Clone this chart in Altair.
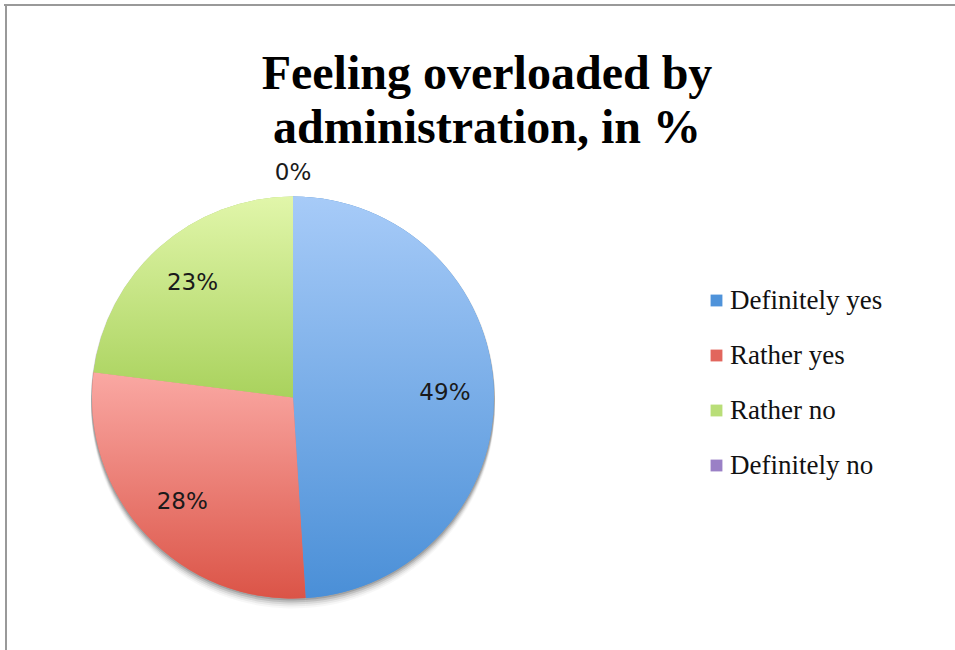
import math
import altair as alt
import pandas as pd

# ---- data ----
categories = ["Definitely yes", "Rather yes", "Rather no", "Definitely no"]
values = [49, 28, 23, 0]
order = [0, 1, 2, 3]

# ---- styles ----
legend_colors = ["#4f93da", "#e2665d", "#b9de78", "#9a80c6"]
gradient_stops = {
    "Definitely yes": ("#a7cbf8", "#4a8fd7"),
    "Rather yes": ("#faa8a3", "#db5447"),
    "Rather no": ("#e1f6aa", "#a9d25d"),
    "Definitely no": ("#c2b0e0", "#8c6fbf"),
}

df = pd.DataFrame({"category": categories, "value": values, "order": order})

PIE_R = 201
theta_scale = alt.Scale(domain=[0, 100], range=[0, 2 * math.pi])

base = (
    alt.Chart(df)
    .transform_window(cum="sum(value)", sort=[alt.SortField("order")], frame=[None, 0])
    .transform_calculate(start="datum.cum - datum.value", mid="datum.cum - datum.value / 2")
)

theta = alt.Theta("start:Q", scale=theta_scale)
theta2 = alt.Theta2("cum:Q")

# soft drop shadow
shadows = [
    base.mark_arc(radius=PIE_R + 1, yOffset=off, fill="black", opacity=op).encode(theta=theta, theta2=theta2)
    for off, op in [(1, 0.14), (3, 0.11), (5, 0.08), (7, 0.05), (9, 0.03)]
]

solid = base.mark_arc(radius=PIE_R).encode(
    theta=theta,
    theta2=theta2,
    color=alt.Color(
        "category:N",
        scale=alt.Scale(domain=categories, range=legend_colors),
        sort=categories,
        legend=alt.Legend(
            title=None,
            orient="none",
            legendX=703,
            legendY=137,
            padding=0,
            symbolType="square",
            symbolSize=140,
            symbolStrokeWidth=0,
            labelFont="Liberation Serif",
            labelFontSize=27,
            labelColor="#111111",
            labelOffset=0,
            rowPadding=27,
            labelLimit=400,
        ),
    ),
)

grad_layers = []
for cat in categories:
    top, bottom = gradient_stops[cat]
    g = alt.Gradient(
        gradient="linear",
        x1=0, y1=0, x2=0, y2=1,
        stops=[alt.GradientStop(offset=0, color=top), alt.GradientStop(offset=1, color=bottom)],
    )
    grad_layers.append(
        base.transform_filter(alt.datum.category == cat)
        .mark_arc(radius=PIE_R, fill=g)
        .encode(theta=theta, theta2=theta2)
    )

label_style = dict(font="DejaVu Sans", fontSize=23, color="#1a1a1a", baseline="middle", align="center")

labels_in = (
    base.transform_filter(alt.datum.value > 0)
    .transform_calculate(lab="datum.value + '%'")
    .mark_text(radius=152, **label_style)
    .encode(theta=alt.Theta("mid:Q", scale=theta_scale), text="lab:N")
)
labels_out = (
    base.transform_filter(alt.datum.value == 0)
    .transform_calculate(lab="datum.value + '%'")
    .mark_text(radius=225, **label_style)
    .encode(theta=alt.Theta("mid:Q", scale=theta_scale), text="lab:N")
)

frame_top = base.mark_rule(color="#999999", strokeWidth=2).encode(
    x=alt.value(4), x2=alt.value(955), y=alt.value(-145)
)
frame_left = base.mark_rule(color="#999999", strokeWidth=2).encode(
    x=alt.value(6), y=alt.value(-146), y2=alt.value(500)
)

chart = (
    alt.layer(*shadows, solid, *grad_layers, labels_in, labels_out, frame_top, frame_left)
    .properties(
        width=586,
        height=495,
        padding={"left": 0, "top": 150, "right": 369, "bottom": 5},
        autosize=alt.AutoSizeParams(type="none"),
        background="white",
        title=alt.TitleParams(
            text=["Feeling overloaded by", "administration, in %"],
            font="Liberation Serif",
            fontSize=48,
            fontWeight="bold",
            color="#000000",
            lineHeight=54,
            anchor="middle",
            dx=194,
            offset=-150,
        ),
    )
    .configure_view(stroke=None)
)

chart.save("out.html", embed_options={"renderer": "svg", "actions": False})
